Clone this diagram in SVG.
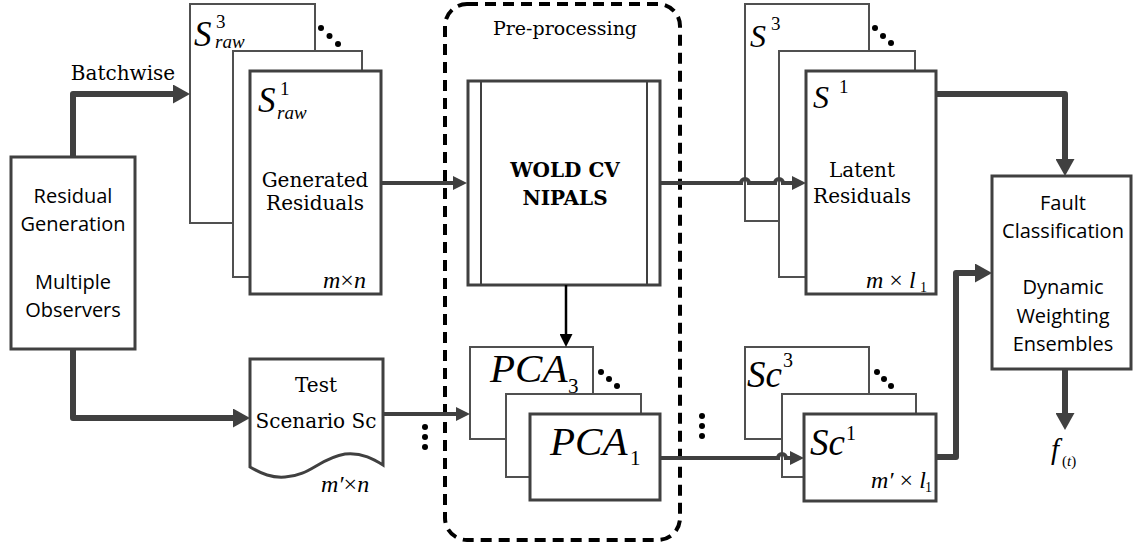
<svg xmlns="http://www.w3.org/2000/svg" width="1134" height="547" viewBox="0 0 1134 547">
<style>
.bg{fill:#fff}
.box{fill:#fff;stroke:#404040;stroke-width:3}
.back{fill:#fff;stroke:#505050;stroke-width:2}
.sans{font-family:"Open Sans","Liberation Sans",sans-serif;font-size:20px;fill:#000;text-anchor:middle}
.serif{font-family:"DejaVu Serif","Liberation Serif",serif;font-size:20px;fill:#000;text-anchor:middle}
.math{font-family:"Liberation Serif","Times New Roman",serif;font-style:italic;fill:#000}
.up{font-family:"Liberation Serif","Times New Roman",serif;font-style:normal;fill:#000}
.thick{fill:none;stroke:#404040;stroke-width:6;stroke-linejoin:round}
.mid{fill:none;stroke:#404040;stroke-width:4}
.blk{fill:none;stroke:#000;stroke-width:2.5}
.dot{fill:#000}
</style>
<defs>
<marker id="big" markerUnits="userSpaceOnUse" markerWidth="17" markerHeight="19" refX="2" refY="9.5" orient="auto"><path d="M0,0 L17,9.5 L0,19 z" fill="#404040"/></marker>
<marker id="med" markerUnits="userSpaceOnUse" markerWidth="14" markerHeight="14" refX="2" refY="7" orient="auto"><path d="M0,0 L14,7 L0,14 z" fill="#404040"/></marker>
<marker id="bk" markerUnits="userSpaceOnUse" markerWidth="13" markerHeight="13" refX="2" refY="6.5" orient="auto"><path d="M0,0 L13,6.5 L0,13 z" fill="#000"/></marker>
</defs>
<rect class="bg" x="0" y="0" width="1134" height="547"/>

<g id="preprocessing">
<rect x="445" y="4" width="235" height="536" rx="22" fill="none" stroke="#000" stroke-width="4" stroke-dasharray="11 7"/>
<text class="serif" x="565" y="35" style="font-size:19px">Pre-processing</text>
</g>

<g id="residual-generation">
<rect class="box" x="11" y="157" width="124" height="192"/>
<text class="sans" x="73" y="203">Residual</text>
<text class="sans" x="73" y="231">Generation</text>
<text class="sans" x="73" y="289">Multiple</text>
<text class="sans" x="73" y="317">Observers</text>
</g>

<g id="raw-stack">
<rect class="back" x="190" y="4" width="125" height="219"/>
<rect class="back" x="233" y="51" width="129" height="226"/>
<rect class="box" x="250" y="71" width="131" height="223"/>
<circle class="dot" cx="321" cy="28" r="3"/><circle class="dot" cx="329.5" cy="36" r="3"/><circle class="dot" cx="338" cy="44" r="3"/>
<text class="math" x="194" y="46" font-size="35">S</text>
<text class="up" x="216" y="28" font-size="19">3</text>
<text class="math" x="215" y="48" font-size="19">raw</text>
<text class="math" x="258" y="112" font-size="35">S</text>
<text class="up" x="280" y="95" font-size="19">1</text>
<text class="math" x="277" y="119" font-size="19">raw</text>
<text class="serif" x="315" y="187">Generated</text>
<text class="serif" x="315" y="210">Residuals</text>
<text class="math" x="323" y="288" font-size="24">m<tspan class="up">×</tspan>n</text>
</g>

<g id="wold-nipals">
<rect class="box" x="468" y="81" width="192" height="204"/>
<line x1="481" y1="81" x2="481" y2="285" stroke="#404040" stroke-width="2"/>
<line x1="647" y1="81" x2="647" y2="285" stroke="#404040" stroke-width="2"/>
<text class="serif" x="565" y="177" font-weight="bold">WOLD CV</text>
<text class="serif" x="565" y="205" font-weight="bold">NIPALS</text>
</g>

<g id="latent-stack">
<rect class="back" x="745" y="4" width="124" height="217"/>
<rect class="back" x="779" y="51" width="136" height="226"/>
<rect class="box" x="806" y="71" width="130" height="223"/>
<circle class="dot" cx="875" cy="28" r="3"/><circle class="dot" cx="883" cy="36" r="3"/><circle class="dot" cx="891" cy="43" r="3"/>
<text class="math" x="750" y="47" font-size="32">S</text>
<text class="up" x="771" y="30" font-size="19">3</text>
<text class="math" x="813" y="108" font-size="32">S</text>
<text class="up" x="839" y="93" font-size="19">1</text>
<text class="serif" x="862" y="177">Latent</text>
<text class="serif" x="862" y="203">Residuals</text>
<text class="math" x="866" y="288" font-size="24">m <tspan class="up">×</tspan> l</text>
<text class="up" x="920" y="292" font-size="14">1</text>
</g>

<g id="fault-classification">
<rect class="box" x="992" y="176" width="139" height="193"/>
<text class="sans" x="1063" y="210">Fault</text>
<text class="sans" x="1063" y="238">Classification</text>
<text class="sans" x="1063" y="294">Dynamic</text>
<text class="sans" x="1063" y="323">Weighting</text>
<text class="sans" x="1063" y="351">Ensembles</text>
</g>

<g id="output-f">
<text class="math" x="1051" y="459" font-size="29">f</text>
<text class="up" x="1062" y="466" font-size="15">(<tspan class="math">t</tspan>)</text>
</g>

<g id="test-scenario">
<path class="box" d="M250,359 H383 V465 C375,460 362,452 345,454 C320,458 310,476 285,477 C272,478 262,474 250,467 Z"/>
<text class="serif" x="316" y="392">Test</text>
<text class="serif" x="316" y="428">Scenario Sc</text>
<text class="math" x="321" y="492" font-size="24">m′<tspan class="up">×</tspan>n</text>
</g>

<g id="pca-stack">
<rect class="back" x="470" y="347" width="123" height="92"/>
<rect class="back" x="506" y="394" width="135" height="83"/>
<rect class="box" x="530" y="414" width="130" height="86"/>
<circle class="dot" cx="601" cy="372" r="3"/><circle class="dot" cx="609" cy="379" r="3"/><circle class="dot" cx="617" cy="386" r="3"/>
<text class="math" x="490" y="382" font-size="41">PCA</text>
<text class="up" x="568" y="393" font-size="21">3</text>
<text class="math" x="550" y="455" font-size="41">PCA</text>
<text class="up" x="630" y="465" font-size="21">1</text>
</g>

<g id="scenario-stack">
<rect class="back" x="745" y="347" width="124" height="92"/>
<rect class="back" x="782" y="394" width="134" height="83"/>
<rect class="box" x="804" y="414" width="132" height="87"/>
<circle class="dot" cx="877" cy="372" r="3"/><circle class="dot" cx="884" cy="379" r="3"/><circle class="dot" cx="891" cy="386" r="3"/>
<text class="math" x="747" y="387" font-size="37">Sc</text>
<text class="up" x="783" y="367" font-size="20">3</text>
<text class="math" x="810" y="455" font-size="37">Sc</text>
<text class="up" x="846" y="440" font-size="20">1</text>
<text class="math" x="871" y="488" font-size="24">m′ <tspan class="up">×</tspan> l</text>
<text class="up" x="925" y="492" font-size="14">1</text>
</g>

<g id="connectors">
<path class="thick" d="M73,157 V94 H175" marker-end="url(#big)"/>
<text class="serif" x="123" y="80">Batchwise</text>
<path class="thick" d="M73,349 V418 H235" marker-end="url(#big)"/>
<path class="thick" d="M936,94 H1065 V161" marker-end="url(#big)"/>
<path class="thick" d="M1065,369 V415" marker-end="url(#big)"/>
<path class="thick" d="M936,457 H956 V273 H977" marker-end="url(#big)"/>
<path class="mid" d="M381,183 H455" marker-end="url(#med)"/>
<path class="mid" d="M660,183 H741 a4,4 0 0 1 8,0 H775 a4,4 0 0 1 8,0 H794" marker-end="url(#med)"/>
<path class="mid" d="M383,414 H458" marker-end="url(#med)"/>
<path class="mid" d="M660,458 H778 a4,4 0 0 1 8,0 H792" marker-end="url(#med)"/>
<path class="blk" d="M566,285 V336" marker-end="url(#bk)"/>
<circle class="dot" cx="425" cy="427" r="3"/><circle class="dot" cx="425" cy="437" r="3"/><circle class="dot" cx="425" cy="447" r="3"/>
<circle class="dot" cx="702" cy="416" r="3"/><circle class="dot" cx="702" cy="426" r="3"/><circle class="dot" cx="702" cy="436" r="3"/>
</g>
</svg>
